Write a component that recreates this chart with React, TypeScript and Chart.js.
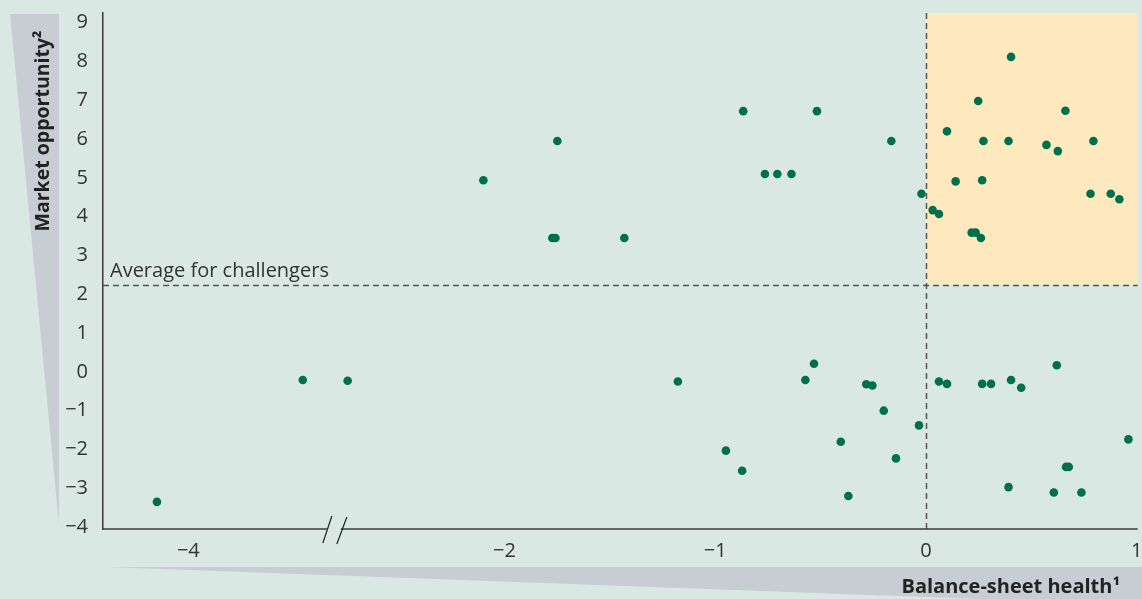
import React, { useEffect, useRef } from "react";
import { Chart, registerables } from "chart.js";

Chart.register(...registerables);

// ---- data (real values) ----
const balanceSheetHealth = [
  -1.749, -2.1, -1.773, -1.758, -1.431, -0.867, -0.517, -0.764, -0.705, -0.638, -0.164, -0.021,
  0.404, 0.248, 0.662, 0.1, 0.273, 0.392, 0.572, 0.626, 0.795, 0.141, 0.267, 0.781, 0.877, 0.918,
  0.032, 0.062, 0.217, 0.236, 0.261,
  -1.177, -0.531, -0.572, -0.283, -0.254, -0.2, -0.033, -0.949, -0.404, -0.142, -0.872, -0.368,
  0.062, 0.1, 0.267, 0.309, 0.404, 0.452, 0.621, 0.961, 0.665, 0.678, 0.392, 0.607, 0.738,
  -3.457, -2.744, -4.149,
];
const marketOpportunity = [
  5.95, 4.94, 3.45, 3.45, 3.45, 6.72, 6.72, 5.1, 5.1, 5.1, 5.95, 4.59,
  8.12, 6.98, 6.73, 6.2, 5.95, 5.95, 5.85, 5.69, 5.95, 4.91, 4.94, 4.59, 4.59, 4.45,
  4.17, 4.07, 3.59, 3.59, 3.45,
  -0.25, 0.21, -0.21, -0.32, -0.35, -1.0, -1.38, -2.03, -1.8, -2.23, -2.55, -3.2,
  -0.25, -0.31, -0.31, -0.31, -0.21, -0.41, 0.17, -1.74, -2.45, -2.45, -2.97, -3.11, -3.11,
  -0.21, -0.23, -3.35,
];
const xTickReal = [-4, -2, -1, 0, 1];
const yTicks = [-4, -3, -2, -1, 0, 1, 2, 3, 4, 5, 6, 7, 8, 9];
const challengerAverage = 2.25;
const averageLabel = "Average for challengers";
const xTitle = "Balance-sheet health¹";
const yTitle = "Market opportunity²";

// axis break: real values below BREAK_REAL are shifted right by BREAK_SHIFT
const BREAK_REAL = -3.3;
const BREAK_SHIFT = 0.5;
const toAxis = (v: number) => (v < BREAK_REAL ? v + BREAK_SHIFT : v);
const fromAxis = (v: number) => (v < BREAK_REAL + BREAK_SHIFT ? v - BREAK_SHIFT : v);

const BG = "#d9e8e2";
const YELLOW = "#fee9bf";
const WEDGE = "#c8cdd4";
const DOT = "#006f4b";
const INK = "#333333";
const FONT = "'Open Sans', sans-serif";

const fmt = (v: number) => {
  const r = Math.round(v * 100) / 100;
  return r < 0 ? "\u2212" + Math.abs(r) : String(r);
};

const decor = {
  id: "decor",
  beforeDraw(chart: any) {
    const { ctx, chartArea: ca, scales } = chart;
    const x = scales.x, y = scales.y;
    ctx.save();
    ctx.fillStyle = BG;
    ctx.fillRect(0, 0, chart.width, chart.height);
    // wedges
    ctx.fillStyle = WEDGE;
    ctx.beginPath();
    ctx.moveTo(10, 14);
    ctx.lineTo(59, 14);
    ctx.lineTo(59, 525);
    ctx.closePath();
    ctx.fill();
    ctx.beginPath();
    ctx.moveTo(108, 567);
    ctx.lineTo(chart.width, 567);
    ctx.lineTo(chart.width, 605);
    ctx.closePath();
    ctx.fill();
    // highlighted quadrant
    const x0 = x.getPixelForValue(0);
    const yAvg = y.getPixelForValue(challengerAverage);
    ctx.fillStyle = YELLOW;
    ctx.fillRect(x0, ca.top, ca.right - x0, yAvg - ca.top);
    // titles
    ctx.fillStyle = "#222";
    ctx.font = `bold 20px ${FONT}`;
    ctx.textAlign = "right";
    ctx.textBaseline = "alphabetic";
    ctx.fillText(xTitle, 1120, 593);
    ctx.font = `bold 19.5px ${FONT}`;
    ctx.translate(49, 131);
    ctx.rotate(-Math.PI / 2);
    ctx.textAlign = "center";
    ctx.fillText(yTitle, 0, 0);
    ctx.restore();
  },
  beforeDatasetsDraw(chart: any) {
    const { ctx, chartArea: ca, scales } = chart;
    const x = scales.x, y = scales.y;
    ctx.save();
    // dashed reference lines
    ctx.strokeStyle = "#555";
    ctx.lineWidth = 1.5;
    ctx.setLineDash([6, 4]);
    const x0 = Math.round(x.getPixelForValue(0)) + 0.5;
    const yAvg = Math.round(y.getPixelForValue(challengerAverage)) + 0.5;
    ctx.beginPath();
    ctx.moveTo(x0, ca.top);
    ctx.lineTo(x0, ca.bottom);
    ctx.moveTo(ca.left, yAvg);
    ctx.lineTo(ca.right, yAvg);
    ctx.stroke();
    ctx.setLineDash([]);
    // average label
    ctx.fillStyle = INK;
    ctx.font = `20px ${FONT}`;
    ctx.textAlign = "left";
    ctx.textBaseline = "alphabetic";
    ctx.fillText(averageLabel, ca.left + 7, yAvg - 9);
    // x axis line with break
    const xb = x.getPixelForValue(BREAK_REAL + BREAK_SHIFT);
    const yb = ca.bottom;
    ctx.strokeStyle = "#3a3a3a";
    ctx.lineWidth = 1.5;
    ctx.beginPath();
    ctx.moveTo(ca.left, yb);
    ctx.lineTo(xb - 9, yb);
    ctx.moveTo(xb + 5, yb);
    ctx.lineTo(ca.right, yb);
    ctx.stroke();
    ctx.lineWidth = 1.2;
    ctx.strokeStyle = "#222";
    ctx.beginPath();
    ctx.moveTo(xb - 4, yb - 13);
    ctx.lineTo(xb - 13, yb + 14);
    ctx.moveTo(xb + 11, yb - 12);
    ctx.lineTo(xb + 1, yb + 15);
    ctx.stroke();
    ctx.restore();
  },
};

export default function App() {
  const ref = useRef<HTMLCanvasElement>(null);
  useEffect(() => {
    if (!ref.current) return;
    const points = balanceSheetHealth.map((v, i) => ({ x: toAxis(v), y: marketOpportunity[i] }));
    const chart = new Chart(ref.current, {
      type: "scatter",
      data: {
        datasets: [
          {
            label: "Challengers",
            data: points,
            backgroundColor: DOT,
            borderWidth: 0,
            pointRadius: 4.3,
            pointHoverRadius: 4.3,
          },
        ],
      },
      options: {
        animation: false,
        responsive: false,
        devicePixelRatio: 1,
        layout: { padding: { top: 13, right: 3, left: 0, bottom: 0 } },
        plugins: { legend: { display: false }, tooltip: { enabled: false } },
        scales: {
          x: {
            type: "linear",
            min: -3.905,
            max: 1.005,
            grid: { display: false, drawTicks: false },
            border: { display: false },
            afterFit: (s: any) => {
              s.height = 70;
              s.paddingLeft = 0;
              s.paddingRight = 0;
            },
            afterBuildTicks: (s: any) => {
              s.ticks = xTickReal.map((v) => ({ value: toAxis(v) }));
            },
            ticks: {
              padding: 10,
              color: INK,
              font: { family: FONT, size: 20 },
              maxRotation: 0,
              autoSkip: false,
              callback: (v: any) => fmt(fromAxis(Number(v))),
            },
          },
          y: {
            type: "linear",
            min: -4.05,
            max: 9.25,
            grid: { display: false, drawTicks: false },
            border: { display: true, color: "#3a3a3a", width: 1.5 },
            afterFit: (s: any) => {
              s.width = 103;
              s.paddingTop = 0;
              s.paddingBottom = 0;
            },
            afterBuildTicks: (s: any) => {
              s.ticks = yTicks.map((v) => ({ value: v }));
            },
            ticks: {
              padding: 15,
              color: INK,
              font: { family: FONT, size: 20 },
              autoSkip: false,
              callback: (v: any) => fmt(Number(v)),
            },
          },
        },
      },
      plugins: [decor],
    });
    return () => chart.destroy();
  }, []);
  return (
    <div style={{ position: "fixed", left: 0, top: 0, width: 1142, height: 599, background: BG }}>
      <canvas ref={ref} width={1142} height={599} style={{ display: "block" }} />
    </div>
  );
}
